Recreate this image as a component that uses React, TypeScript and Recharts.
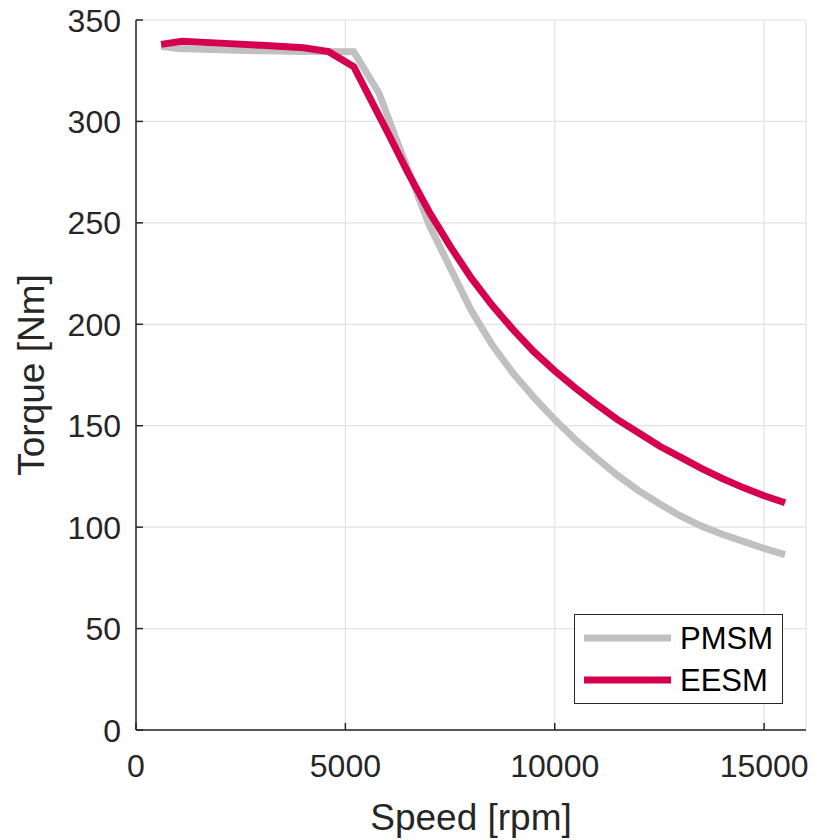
import React from 'react';
import {
  LineChart,
  Line,
  XAxis,
  YAxis,
  CartesianGrid
} from 'recharts';

// speed [rpm] / torque [Nm]
const pmsmSpeed = [600, 1000, 2000, 3000, 4000, 5200, 5800, 6000, 6200, 6500, 7000, 7500, 8000, 8500, 9000, 9500, 10000, 10500, 11000, 11500, 12000, 12500, 13000, 13500, 14000, 14500, 15000, 15500];
const pmsmTorque = [337, 336, 335.3, 334.8, 334.5, 334.4, 314, 303, 292, 276, 249, 228, 207, 190, 176, 164, 153, 143, 134, 125.5, 118, 111.5, 105.5, 100.5, 96.5, 93, 89.5, 86.5];

const eesmSpeed = [600, 1100, 2000, 3000, 4000, 4600, 5200, 5600, 6000, 6500, 7000, 7500, 8000, 8500, 9000, 9500, 10000, 10500, 11000, 11500, 12000, 12500, 13000, 13500, 14000, 14500, 15000, 15500];
const eesmTorque = [338, 339.5, 338.6, 337.5, 336.3, 334.4, 327, 311, 295, 274.5, 255.5, 238.5, 223, 209.5, 197.5, 186.5, 177, 168.5, 160.5, 153, 146.5, 140, 134.5, 129, 124, 119.5, 115.5, 112];

const xTicks = [0, 5000, 10000, 15000];
const yTicks = [0, 50, 100, 150, 200, 250, 300, 350];

const series = [
  { name: 'PMSM', color: '#c0c0c0', speed: pmsmSpeed, torque: pmsmTorque },
  { name: 'EESM', color: '#d5004f', speed: eesmSpeed, torque: eesmTorque }
];

const FONT = '"Liberation Sans", Arial, Helvetica, sans-serif';
const AXIS = '#262626';
const PLOT_LEFT = 136;
const PLOT_BOTTOM = 730;

const toRows = (speed: number[], torque: number[]) =>
  speed.map((rpm, i) => ({ rpm, torque: torque[i] }));

// MATLAB style: ticks point into the plot
const XTick = (props: any) => {
  const { payload } = props;
  const cx = payload.coordinate;
  return (
    <g>
      <line x1={cx} x2={cx} y1={PLOT_BOTTOM} y2={PLOT_BOTTOM - 7} stroke={AXIS} strokeWidth={1.5} />
      <text x={cx} y={PLOT_BOTTOM + 47} textAnchor="middle" fontSize={32} fill={AXIS} fontFamily={FONT}>
        {payload.value}
      </text>
    </g>
  );
};

const YTick = (props: any) => {
  const { payload } = props;
  const cy = payload.coordinate;
  return (
    <g>
      <line x1={PLOT_LEFT} x2={PLOT_LEFT + 7} y1={cy} y2={cy} stroke={AXIS} strokeWidth={1.5} />
      <text x={PLOT_LEFT - 15} y={cy + 11.5} textAnchor="end" fontSize={32} fill={AXIS} fontFamily={FONT}>
        {payload.value}
      </text>
    </g>
  );
};

const App: React.FC = () => {
  return (
    <div style={{ position: 'absolute', left: 0, top: 0, width: 823, height: 840, background: '#fff' }}>
      <LineChart
        width={823}
        height={840}
        margin={{ top: 20, right: 17, bottom: 0, left: 0 }}
      >
        <CartesianGrid stroke="#e2e2e2" strokeWidth={1.2} />
        <XAxis
          type="number"
          dataKey="rpm"
          domain={[0, 16000]}
          ticks={xTicks}
          allowDataOverflow
          height={110}
          axisLine={{ stroke: AXIS, strokeWidth: 1.5 }}
          tickLine={false}
          tick={<XTick />}
          label={{
            value: 'Speed [rpm]',
            position: 'insideBottom',
            offset: 10,
            fontSize: 37,
            fill: AXIS,
            fontFamily: FONT
          }}
        />
        <YAxis
          type="number"
          domain={[0, 350]}
          ticks={yTicks}
          allowDataOverflow
          width={136}
          axisLine={{ stroke: AXIS, strokeWidth: 1.5 }}
          tickLine={false}
          tick={<YTick />}
          label={{
            value: 'Torque [Nm]',
            angle: -90,
            position: 'insideLeft',
            offset: 31,
            style: { textAnchor: 'middle' },
            fontSize: 37,
            fill: AXIS,
            fontFamily: FONT
          }}
        />
        {series.map((s) => (
          <Line
            key={s.name}
            data={toRows(s.speed, s.torque)}
            dataKey="torque"
            name={s.name}
            type="linear"
            stroke={s.color}
            strokeWidth={7}
            dot={false}
            isAnimationActive={false}
          />
        ))}
      </LineChart>
      <div
        style={{
          position: 'absolute',
          left: 574,
          top: 614,
          width: 209,
          height: 90,
          boxSizing: 'border-box',
          border: `1.5px solid ${AXIS}`,
          background: '#fff',
          fontFamily: FONT
        }}
      >
        <svg width={206} height={87} style={{ position: 'absolute', left: 0, top: 0 }}>
          {series.map((s, i) => (
            <g key={s.name}>
              <line x1={9} x2={96} y1={23 + i * 42} y2={23 + i * 42} stroke={s.color} strokeWidth={7} />
              <text x={105} y={23 + i * 42 + 11} fontSize={31} fill="#000" fontFamily={FONT}>
                {s.name}
              </text>
            </g>
          ))}
        </svg>
      </div>
    </div>
  );
};

export default App;
